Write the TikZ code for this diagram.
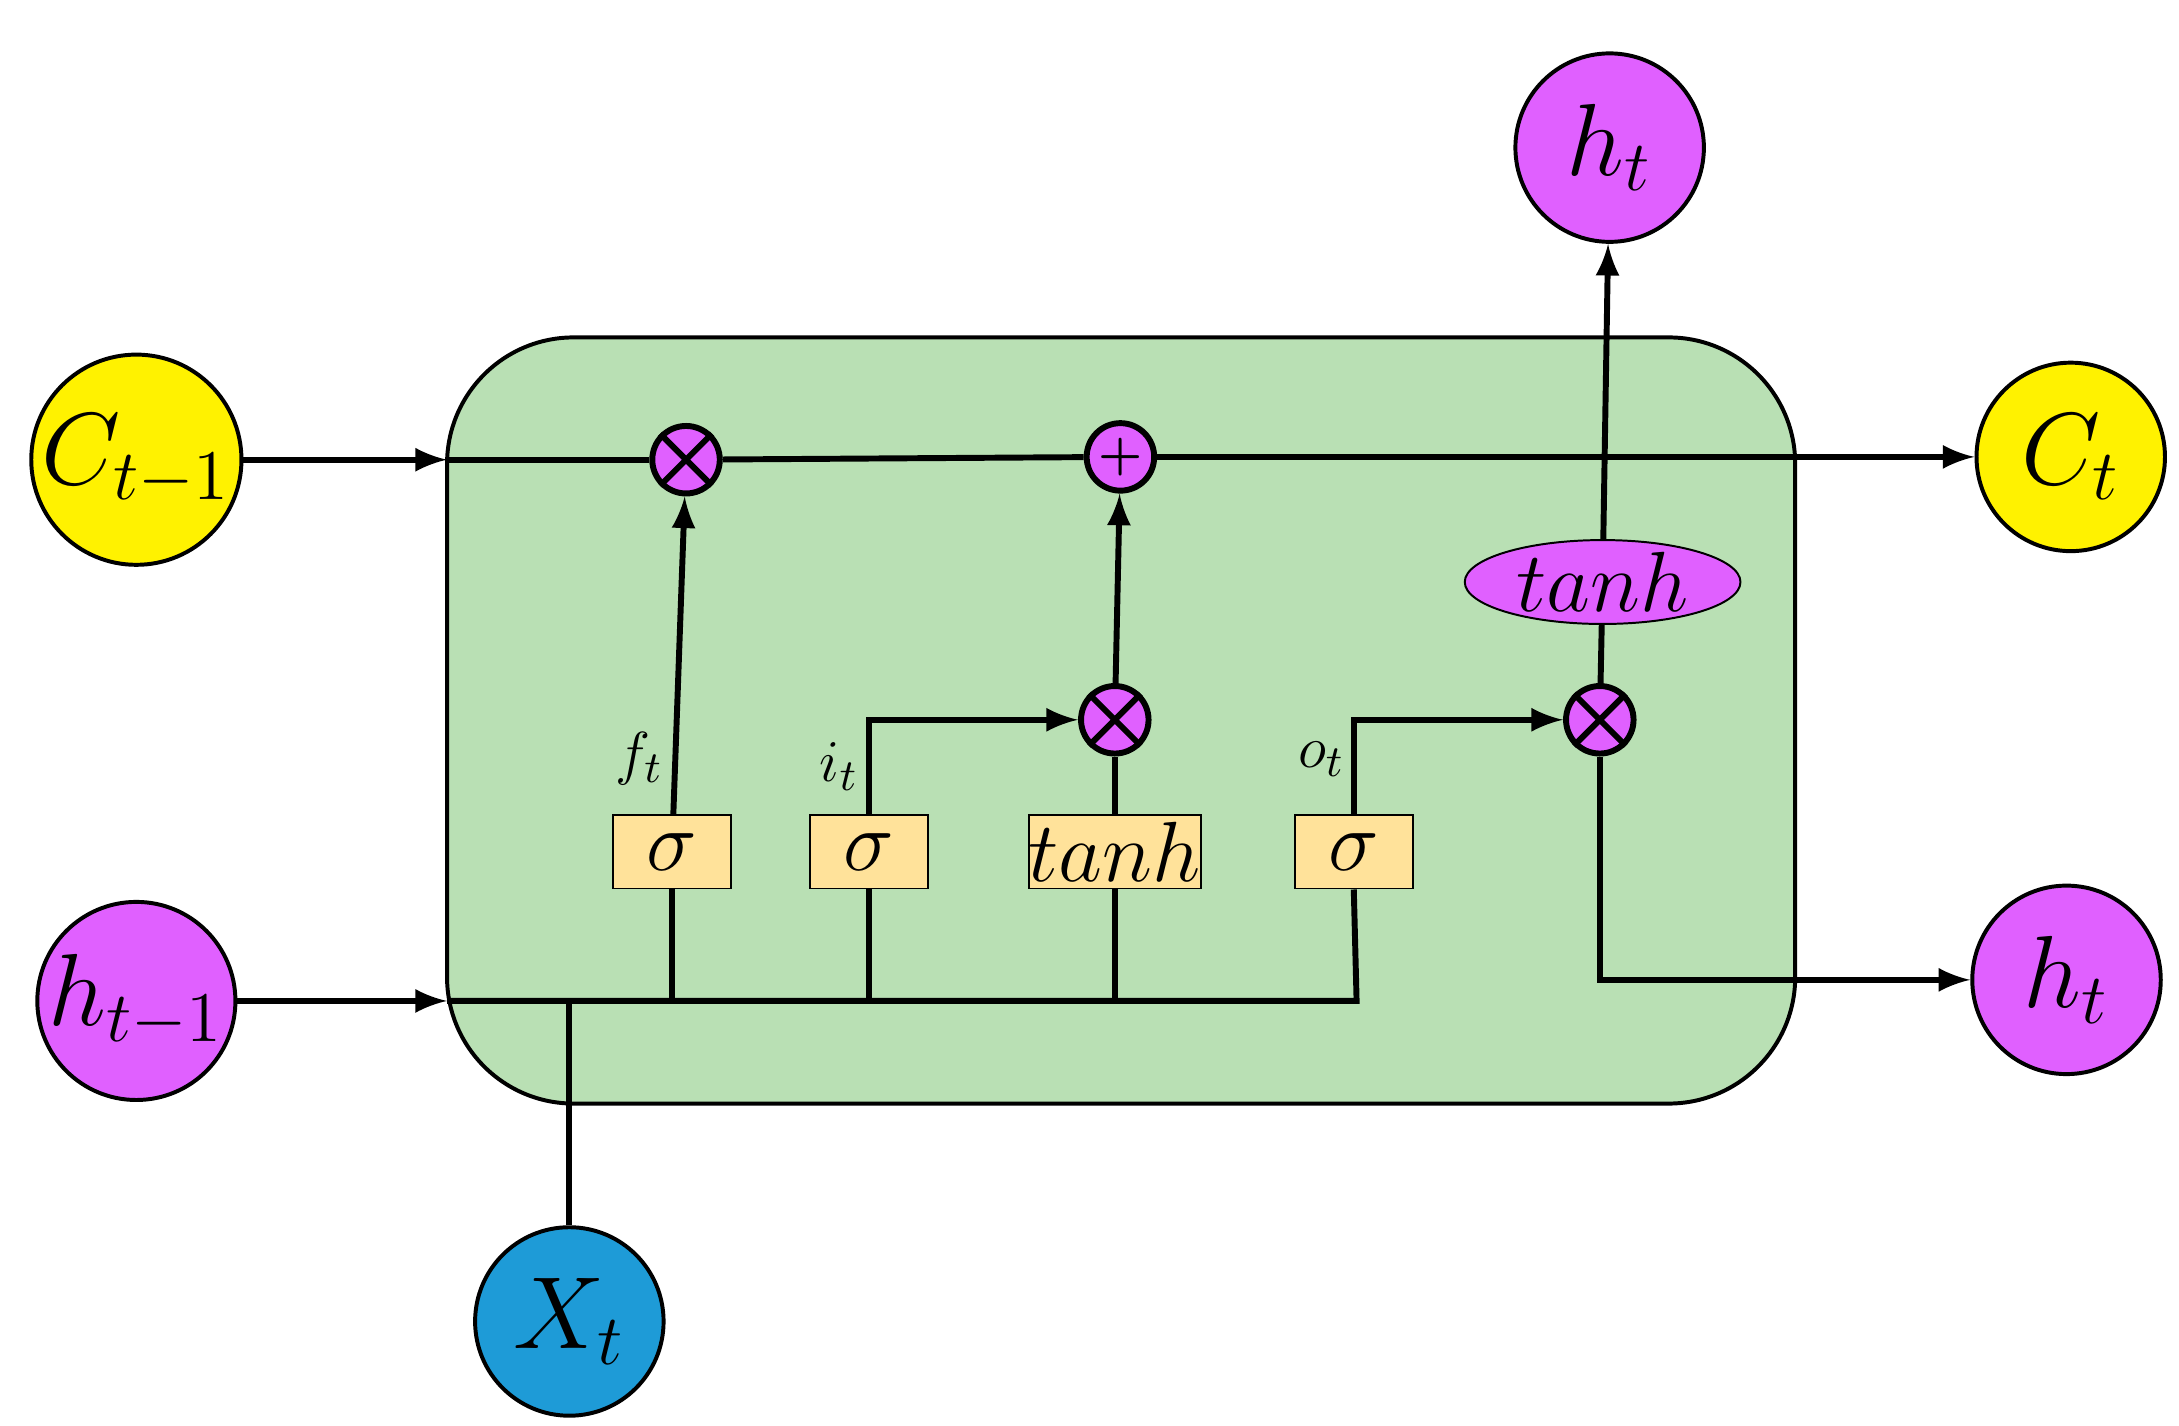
\documentclass[tikz,border=0pt]{standalone}
\usepackage{tikz}
\usetikzlibrary{shapes.geometric}
\definecolor{cellgreen}{HTML}{B9E0B4}
\definecolor{gatebox}{HTML}{FFE29A}
\definecolor{magentac}{HTML}{E060FF}
\definecolor{bluec}{HTML}{1E9BD7}
\tikzset{
  io/.style={circle, draw, thick, minimum size=1.34cm, inner sep=0pt, font=\fontsize{21}{24}\selectfont},
  op/.style={circle, draw, very thick, fill=magentac, minimum size=0.48cm, inner sep=0pt},
  gate/.style={rectangle, draw, fill=gatebox, minimum height=0.52cm, inner sep=0pt, font=\fontsize{17}{20}\selectfont},
  flow/.style={very thick, -latex},
  wire/.style={very thick},
  lbl/.style={font=\fontsize{13}{15}\selectfont}
}
\begin{document}
\begin{tikzpicture}[x=0.01cm, y=-0.01cm]
			\useasboundingbox (0,0) rectangle (1550,1014);
			
			% cell body
			\draw [thick, fill=cellgreen, rounded corners=0.9cm] (318,240) rectangle (1277,785);
			
			% inputs and outputs
			\node [io, fill=yellow] (cprev) at (97,327) {$C_{t-1}$};
			\node [io, fill=magentac] (hprev) at (97,712) {$h_{t-1}$};
			\node [io, fill=bluec] (xt) at (405,940) {$X_t$};
			\node [io, fill=magentac] (htop) at (1145,105) {$h_t$};
			\node [io, fill=yellow] (ct) at (1473,325) {$C_t$};
			\node [io, fill=magentac] (hout) at (1470,697) {$h_t$};
			
			% pointwise operations
			\node [op] (mulf) at (488,327) {};
			\draw [very thick] (mulf.north west) -- (mulf.south east) (mulf.north east) -- (mulf.south west);
			\node [op] (add) at (797,325) {\textbf{+}};
			\node [op] (muli) at (793,512) {};
			\draw [very thick] (muli.north west) -- (muli.south east) (muli.north east) -- (muli.south west);
			\node [op] (mulo) at (1138,512) {};
			\draw [very thick] (mulo.north west) -- (mulo.south east) (mulo.north east) -- (mulo.south west);
			\node [ellipse, draw, fill=magentac, minimum width=1.96cm, minimum height=0.52cm, inner sep=0pt, font=\fontsize{17}{20}\selectfont] (tanhc) at (1140,414) {$tanh$};
			
			% gates
			\node [gate, minimum width=0.84cm] (sf) at (478,606) {$\sigma$};
			\node [gate, minimum width=0.84cm] (si) at (618,606) {$\sigma$};
			\node [gate, minimum width=1.14cm] (tc) at (793,606) {$tanh$};
			\node [gate, minimum width=0.84cm] (so) at (963,606) {$\sigma$};
			
			\node [lbl] at (455,540) {$f_t$};
			\node [lbl] at (597,545) {$i_t$};
			\node [lbl] at (940,540) {$o_t$};
			
			% cell state line
			\draw [flow] (cprev) -- (318,327);
			\draw [wire] (318,327) -- (mulf);
			\draw [wire] (mulf) -- (add);
			\draw [flow] (add) -- (ct);
			
			% hidden state line
			\coordinate (hin) at (318,712);
			\coordinate (hend) at (965,712);
			\draw [flow] (hprev) -- (hin);
			\draw [wire] (hin) -- (hend) -- (so.south);
			\draw [wire] (xt) -- (405,712);
			\draw [wire] (sf.south) -- (sf.south |- hin);
			\draw [wire] (si.south) -- (si.south |- hin);
			\draw [wire] (tc.south) -- (tc.south |- hin);
			
			% gate outputs
			\draw [flow] (sf) -- (mulf);
			\draw [flow] (si.north) |- (muli);
			\draw [wire] (tc) -- (muli);
			\draw [flow] (muli) -- (add);
			\draw [flow] (so.north) |- (mulo);
			\draw [wire] (mulo) -- (tanhc);
			\draw [flow] (tanhc) -- (htop);
			\draw [flow] (mulo.south) |- (hout);
			
			\end{tikzpicture}
\end{document}
